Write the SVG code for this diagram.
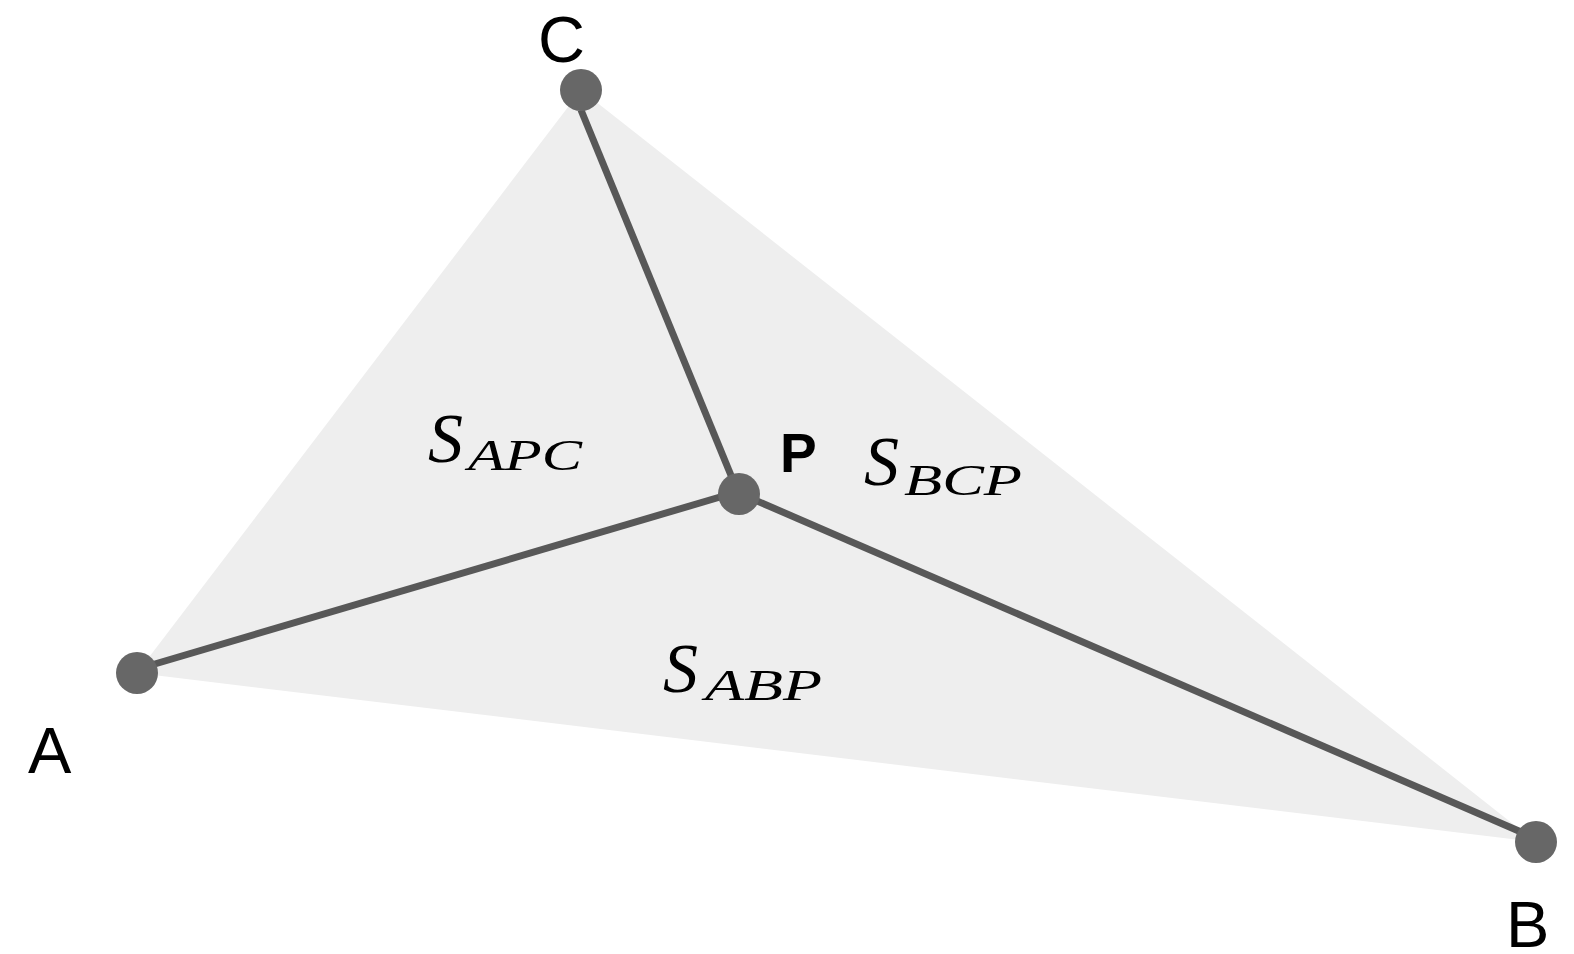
<svg xmlns="http://www.w3.org/2000/svg" width="1574" height="954" viewBox="0 0 1574 954">
<style>
.lbl{font-family:"Liberation Sans",Arial,sans-serif;font-size:65px;fill:#000}
.pl{font-family:"Liberation Sans",Arial,sans-serif;font-weight:bold;font-size:55px;fill:#000}
.m{font-family:"Liberation Serif","Times New Roman",serif;font-style:italic;fill:#000}
.seg{stroke:#585858;stroke-width:7;fill:none}
.pt{fill:#676767}
</style>
<rect width="1574" height="954" fill="#fff"/>
<polygon id="triangle" points="137,673 1536,842 581,90" fill="#eeeeee"/>
<g id="connectors">
<line class="seg" x1="148" y1="666" x2="737" y2="492"/>
<line class="seg" x1="741" y1="494" x2="1535" y2="838"/>
<line class="seg" x1="581" y1="110" x2="737" y2="490"/>
</g>
<g id="nodeA"><circle class="pt" cx="137" cy="673" r="21"/><text class="lbl" x="28" y="773">A</text></g>
<g id="nodeB"><circle class="pt" cx="1536" cy="842" r="21"/><text class="lbl" x="1506" y="947">B</text></g>
<g id="nodeC"><circle class="pt" cx="581" cy="90" r="21"/><text class="lbl" x="538" y="62">C</text></g>
<g id="nodeP"><circle class="pt" cx="739" cy="494" r="21"/><text class="pl" x="780" y="472">P</text></g>
<g id="labelAPC"><text class="m" x="428" y="462" font-size="70">S</text><text class="m" x="468" y="470" font-size="44" textLength="114" lengthAdjust="spacingAndGlyphs">APC</text></g>
<g id="labelBCP"><text class="m" x="864" y="485" font-size="70">S</text><text class="m" x="904" y="495" font-size="44" textLength="118" lengthAdjust="spacingAndGlyphs">BCP</text></g>
<g id="labelABP"><text class="m" x="663" y="692" font-size="70">S</text><text class="m" x="705" y="700" font-size="44" textLength="117" lengthAdjust="spacingAndGlyphs">ABP</text></g>
</svg>
